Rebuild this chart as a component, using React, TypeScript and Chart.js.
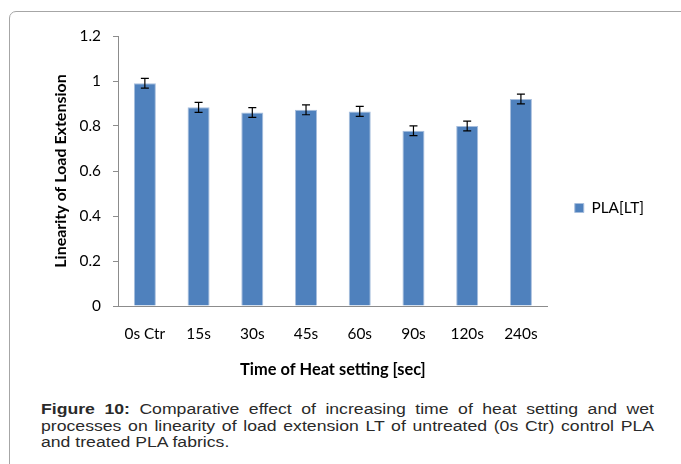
import React, { useEffect, useRef } from "react";
import { Chart, registerables } from "chart.js";

Chart.register(...registerables);

const categories = ["0s Ctr", "15s", "30s", "45s", "60s", "90s", "120s", "240s"];
const values = [0.99, 0.883, 0.86, 0.872, 0.865, 0.779, 0.8, 0.92];
const errors = [0.022, 0.022, 0.022, 0.022, 0.022, 0.022, 0.022, 0.022];
const seriesName = "PLA[LT]";
const yTicks = [0, 0.2, 0.4, 0.6, 0.8, 1, 1.2];

const errorBarPlugin = {
  id: "errorBars",
  afterDatasetsDraw(chart: any) {
    const meta = chart.getDatasetMeta(0);
    const yScale = chart.scales.y;
    const ctx = chart.ctx;
    ctx.save();
    ctx.strokeStyle = "#000";
    ctx.lineWidth = 1.2;
    meta.data.forEach((bar: any, i: number) => {
      const x = bar.x;
      const top = yScale.getPixelForValue(values[i] + errors[i]);
      const bot = yScale.getPixelForValue(values[i] - errors[i]);
      ctx.beginPath();
      ctx.moveTo(x, top);
      ctx.lineTo(x, bot);
      ctx.moveTo(x - 4, top);
      ctx.lineTo(x + 4, top);
      ctx.moveTo(x - 4, bot);
      ctx.lineTo(x + 4, bot);
      ctx.stroke();
    });
    ctx.restore();
  },
};

export default function App() {
  const ref = useRef<HTMLCanvasElement>(null);
  useEffect(() => {
    if (!ref.current) return;
    const font = "Lato, 'Open Sans', sans-serif";
    const chart = new Chart(ref.current, {
      type: "bar",
      data: {
        labels: categories,
        datasets: [
          {
            label: seriesName,
            data: values,
            backgroundColor: "#4F81BD",
            borderColor: "#A7BEDD",
            borderWidth: 1,
            borderSkipped: "bottom",
            barPercentage: 0.41,
            categoryPercentage: 1,
          },
        ],
      },
      options: {
        animation: false,
        responsive: false,
        maintainAspectRatio: false,
        layout: { padding: { top: 36, left: 40, right: 27, bottom: 10 } },
        plugins: {
          tooltip: { enabled: false },
          legend: {
            position: "right",
            labels: {
              boxWidth: 9,
              boxHeight: 9,
              padding: 27,
              color: "#000",
              font: { family: font, size: 15.4 },
            },
          },
        },
        scales: {
          x: {
            afterFit(scale: any) {
              scale.height = 74;
            },
            grid: { display: false, drawTicks: false },
            border: { color: "#8c8c8c", width: 1 },
            ticks: { color: "#000", padding: 19, font: { family: font, size: 15.4 } },
            title: {
              display: true,
              text: "Time of Heat setting [sec]",
              color: "#000",
              font: { family: font, size: 16.4, weight: "bold" },
              padding: { top: 0, bottom: 0 },
            },
          },
          y: {
            min: 0,
            max: 1.2,
            afterFit(scale: any) {
              scale.width = 78;
            },
            afterBuildTicks(scale: any) {
              scale.ticks = yTicks.map((v) => ({ value: v }));
            },
            grid: { drawOnChartArea: false, drawTicks: true, tickLength: 5, color: "#8c8c8c" },
            border: { color: "#8c8c8c", width: 1 },
            ticks: {
              color: "#000",
              padding: 12,
              font: { family: font, size: 15.4 },
              callback: (v: any) => String(Number(Number(v).toFixed(2))),
            },
            title: {
              display: true,
              text: "Linearity of Load Extension",
              color: "#000",
              font: { family: font, size: 16, weight: "bold" },
              padding: { top: 11, bottom: 0 },
            },
          },
        },
      },
      plugins: [errorBarPlugin],
    });
    return () => chart.destroy();
  }, []);

  const scale = 1.26;
  const lineStyle: React.CSSProperties = {
    textAlign: "justify",
    textAlignLast: "justify",
    whiteSpace: "nowrap",
  };

  return (
    <div
      style={{
        position: "fixed",
        left: 0,
        top: 0,
        width: 681,
        height: 464,
        overflow: "hidden",
        background: "#fff",
      }}
    >
      <div
        style={{
          position: "absolute",
          left: 9,
          top: 11,
          width: 720,
          height: 520,
          border: "1px solid #a6a6a6",
          borderTopLeftRadius: 7,
        }}
      />
      <canvas
        ref={ref}
        width={681}
        height={390}
        style={{ position: "absolute", left: 0, top: 0, width: 681, height: 390 }}
      />
      <div
        style={{
          position: "absolute",
          left: 41,
          top: 401,
          width: 613 / scale,
          transform: `scaleX(${scale})`,
          transformOrigin: "0 0",
          fontFamily: "'Liberation Sans', Arial, sans-serif",
          fontSize: 14,
          lineHeight: "16.5px",
          color: "#2a2a2a",
        }}
      >
        <div style={lineStyle}>
          <b>Figure 10:</b> Comparative effect of increasing time of heat setting and wet
        </div>
        <div style={lineStyle}>
          processes on linearity of load extension LT of untreated (0s Ctr) control PLA
        </div>
        <div style={{ whiteSpace: "nowrap" }}>and treated PLA fabrics.</div>
      </div>
    </div>
  );
}
